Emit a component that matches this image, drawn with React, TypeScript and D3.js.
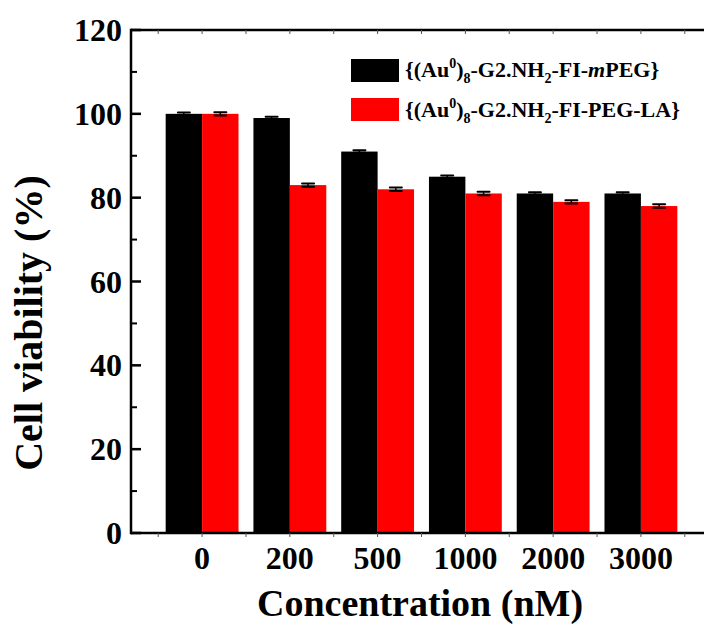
import React from "react";
import * as d3 from "d3";

const categories = ["0", "200", "500", "1000", "2000", "3000"];
const seriesA = [100, 99, 91, 85, 81, 81]; // {(Au0)8-G2.NH2-FI-mPEG}
const seriesB = [100, 83, 82, 81, 79, 78]; // {(Au0)8-G2.NH2-FI-PEG-LA}
const errA = [0.3, 0.3, 0.3, 0.3, 0.3, 0.3];
const errB = [0.4, 0.4, 0.4, 0.4, 0.4, 0.4];
const yTicks = [0, 20, 40, 60, 80, 100, 120];
const yMinor = [10, 30, 50, 70, 90, 110];

const W = 704, H = 630;
const left = 131, right = 712, top = 30, bottom = 533;
const FONT = "'Liberation Serif', 'Times New Roman', serif";

export default function App() {
  const x = d3.scaleLinear().domain([0.19, 6.81]).range([left, right]);
  const y = d3.scaleLinear().domain([0, 120]).range([bottom, top]);
  const barW = x(1.415) - x(1);
  const xMajor = d3.range(1, 7);
  const xMinor = d3.range(0.5, 7.5, 1).filter((v) => v > 0.19 && v < 6.81);

  const bars: any[] = [];
  categories.forEach((c, i) => {
    const cx = x(i + 1);
    [
      { v: seriesA[i], e: errA[i], fill: "#000000", x0: cx - barW },
      { v: seriesB[i], e: errB[i], fill: "#ff0000", x0: cx },
    ].forEach((b, j) => {
      bars.push(
        <g key={`${i}-${j}`}>
          <rect x={b.x0} y={y(b.v)} width={barW} height={bottom - y(b.v)} fill={b.fill} />
          <line x1={b.x0 + barW / 2} x2={b.x0 + barW / 2} y1={y(b.v + b.e)} y2={y(b.v - b.e)} stroke="#000" strokeWidth={1.5} />
          <line x1={b.x0 + barW / 2 - 6} x2={b.x0 + barW / 2 + 6} y1={y(b.v + b.e)} y2={y(b.v + b.e)} stroke="#000" strokeWidth={2} strokeLinecap="round" />
          <line x1={b.x0 + barW / 2 - 6} x2={b.x0 + barW / 2 + 6} y1={y(b.v - b.e)} y2={y(b.v - b.e)} stroke="#000" strokeWidth={2} strokeLinecap="round" />
        </g>
      );
    });
  });

  const legendLabel = (kind: "A" | "B") => (
    <>
      <tspan>{"{(Au"}</tspan>
      <tspan fontSize={14} dy={-9}>0</tspan>
      <tspan dy={9}>)</tspan>
      <tspan fontSize={14} dy={6}>8</tspan>
      <tspan dy={-6}>-G2.NH</tspan>
      <tspan fontSize={14} dy={6}>2</tspan>
      <tspan dy={-6}>-FI-</tspan>
      {kind === "A" ? (
        <>
          <tspan fontStyle="italic">m</tspan>
          <tspan>{"PEG}"}</tspan>
        </>
      ) : (
        <tspan>{"PEG-LA}"}</tspan>
      )}
    </>
  );

  return (
    <svg width={W} height={H} style={{ position: "absolute", left: 0, top: 0, background: "#fff" }} fontFamily={FONT} fontWeight="bold">
      <rect x={0} y={0} width={W} height={H} fill="#fff" />
      {bars}
      {/* axes */}
      <line x1={left} x2={right} y1={bottom} y2={bottom} stroke="#000" strokeWidth={2.5} />
      <line x1={left} x2={right} y1={top} y2={top} stroke="#000" strokeWidth={2.5} />
      <line x1={left} x2={left} y1={top - 1.25} y2={bottom + 1.25} stroke="#000" strokeWidth={2.5} />
      {yTicks.map((t) => (
        <g key={`yt${t}`}>
          <line x1={left} x2={left + 10} y1={y(t)} y2={y(t)} stroke="#000" strokeWidth={2.5} />
          <text x={122} y={y(t) + 11} textAnchor="end" fontSize={32}>{t}</text>
        </g>
      ))}
      {yMinor.map((t) => (
        <line key={`ym${t}`} x1={left} x2={left + 6} y1={y(t)} y2={y(t)} stroke="#000" strokeWidth={2} />
      ))}
      {[...xMajor, ...xMinor].map((t) => (
        <g key={`xt${t}`}>
          <line x1={x(t)} x2={x(t)} y1={bottom} y2={bottom + 4} stroke="#555" strokeWidth={1} />
          <line x1={x(t)} x2={x(t)} y1={top} y2={top + 4} stroke="#555" strokeWidth={1} />
        </g>
      ))}
      {categories.map((c, i) => (
        <text key={`xl${c}`} x={x(i + 1)} y={569} textAnchor="middle" fontSize={32}>{c}</text>
      ))}
      <text x={420} y={616} textAnchor="middle" fontSize={38}>Concentration (nM)</text>
      <text transform={`translate(42, 323) rotate(-90)`} textAnchor="middle" fontSize={40}>Cell viability (%)</text>
      {/* legend */}
      <rect x={351} y={59} width={48} height={23} fill="#000" />
      <text x={405} y={77} fontSize={22}>{legendLabel("A")}</text>
      <rect x={351} y={98} width={48} height={23} fill="#ff0000" />
      <text x={405} y={117} fontSize={22}>{legendLabel("B")}</text>
    </svg>
  );
}
